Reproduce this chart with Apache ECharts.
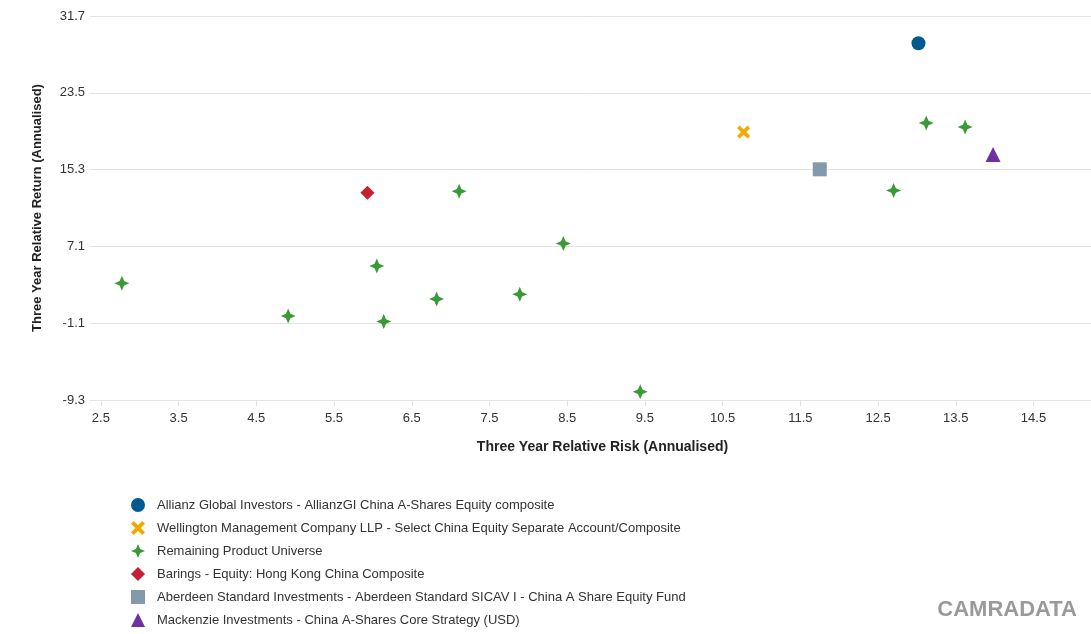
<!DOCTYPE html>
<html>
<head>
<meta charset="utf-8">
<script src="https://cdn.jsdelivr.net/npm/echarts@6/dist/echarts.min.js"></script>
<style>
html,body{margin:0;padding:0;background:#fff;}
#chart{width:1091px;height:634px;}
</style>
</head>
<body>
<div id="chart"></div>
<script>
// ---- Data ----
const seriesNames = [
  'Allianz Global Investors - AllianzGI China A-Shares Equity composite',
  'Wellington Management Company LLP - Select China Equity Separate Account/Composite',
  'Remaining Product Universe',
  'Barings - Equity: Hong Kong China Composite',
  'Aberdeen Standard Investments - Aberdeen Standard SICAV I - China A Share Equity Fund',
  'Mackenzie Investments - China A-Shares Core Strategy (USD)'
];
const allianzData = [[13.02, 28.79]];
const wellingtonData = [[10.77, 19.31]];
const remainingData = [
  [2.77, 3.16], [4.91, -0.32], [6.14, -0.92], [6.05, 5.0], [6.82, 1.49],
  [7.11, 12.99], [7.89, 1.99], [8.45, 7.42], [9.44, -8.42], [12.70, 13.06],
  [13.12, 20.27], [13.62, 19.84]
];
const baringsData = [[5.93, 12.82]];
const aberdeenData = [[11.75, 15.33]];
const mackenzieData = [[13.98, 16.9]];
const xTickValues = [2.5, 3.5, 4.5, 5.5, 6.5, 7.5, 8.5, 9.5, 10.5, 11.5, 12.5, 13.5, 14.5];
const yTickValues = [-9.3, -1.1, 7.1, 15.3, 23.5, 31.7];
const xTitle = 'Three Year Relative Risk (Annualised)';
const yTitle = 'Three Year Relative Return (Annualised)';
const watermark = 'CAMRADATA';

// ---- Styles ----
const starPath = 'path://M0,-10 L3,-3 L10,0 L3,3 L0,10 L-3,3 L-10,0 L-3,-3 Z';
const crossPath = 'path://M-10,-6 L-6,-10 L0,-4 L6,-10 L10,-6 L4,0 L10,6 L6,10 L0,4 L-6,10 L-10,6 L-4,0 Z';
const font = '"Liberation Sans", Arial, sans-serif';

const chart = echarts.init(document.getElementById('chart'), null, {renderer: 'canvas'});
const mk = (name, data, symbol, size, color) => ({
  name, type: 'scatter', data, symbol, symbolSize: size,
  itemStyle: {color, opacity: 1}, emphasis: {disabled: true}
});
chart.setOption({
  animation: false,
  backgroundColor: '#fff',
  textStyle: {fontFamily: font},
  grid: {left: 90, right: 0, top: 16, bottom: 234, containLabel: false},
  xAxis: {
    type: 'value', min: 2.36, max: 15.24,
    name: xTitle, nameLocation: 'middle', nameGap: 40,
    nameTextStyle: {fontFamily: font, fontSize: 14, fontWeight: 'bold', color: '#222', padding: [0, 0, 0, 24]},
    axisLine: {show: true, onZero: false, lineStyle: {color: '#e3e3e3', width: 1}},
    axisTick: {show: true, length: 6, lineStyle: {color: '#e3e3e3'}, customValues: xTickValues},
    axisLabel: {customValues: xTickValues, color: '#333', fontSize: 13, fontFamily: font, margin: 12,
      formatter: v => v.toFixed(1)},
    splitLine: {show: false}
  },
  yAxis: {
    type: 'value', min: -9.3, max: 31.7, interval: 8.2,
    name: yTitle, nameLocation: 'middle', nameGap: 46, nameRotate: 90,
    nameTextStyle: {fontFamily: font, fontSize: 13, fontWeight: 'bold', color: '#222'},
    axisLine: {show: false}, axisTick: {show: false},
    axisLabel: {color: '#333', fontSize: 13, fontFamily: font, margin: 5,
      formatter: v => (Math.round(v * 10) / 10).toFixed(1)},
    splitLine: {show: true, lineStyle: {color: '#e3e3e3', width: 1}}
  },
  legend: {
    orient: 'vertical', left: 126, top: 493, height: 140, itemGap: 9,
    itemWidth: 14, itemHeight: 14,
    textStyle: {fontFamily: font, fontSize: 13, color: '#333', padding: [0, 0, 0, 7]},
    data: seriesNames
  },
  graphic: [{
    type: 'text', right: 14, top: 599,
    style: {text: watermark, font: 'bold 22px ' + font, fill: '#9a9a9a'}
  }],
  series: [
    mk(seriesNames[0], allianzData, 'circle', 14, '#00598f'),
    mk(seriesNames[1], wellingtonData, crossPath, 13, '#f2a900'),
    mk(seriesNames[2], remainingData, starPath, 15, '#3a9a35'),
    mk(seriesNames[3], baringsData, 'diamond', 14, '#c41f33'),
    mk(seriesNames[4], aberdeenData, 'rect', 14, '#8499aa'),
    mk(seriesNames[5], mackenzieData, 'triangle', 15, '#7030a0')
  ]
});
</script>
</body>
</html>
